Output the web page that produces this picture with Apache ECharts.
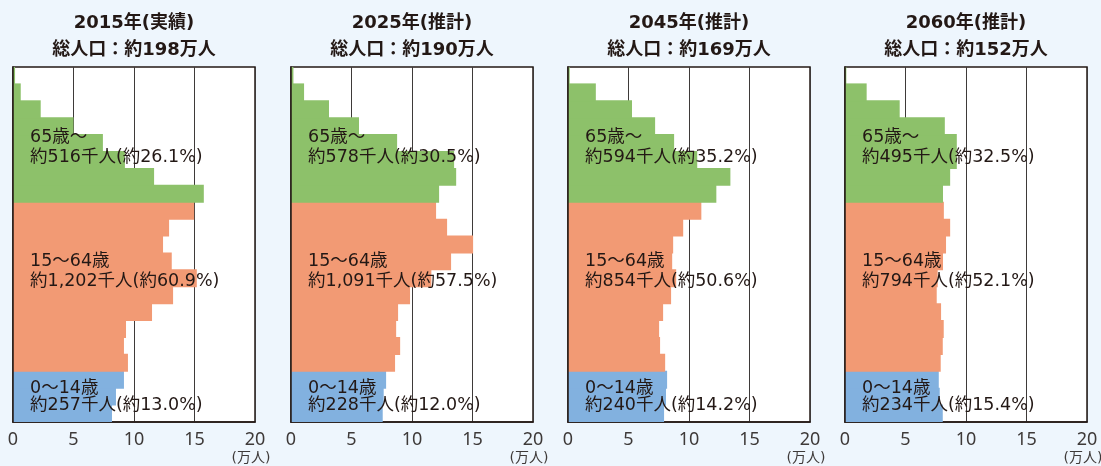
<!DOCTYPE html>
<html><head><meta charset="utf-8">
<script src="https://cdn.jsdelivr.net/npm/echarts@6/dist/echarts.min.js"></script>
<style>html,body{margin:0;padding:0;background:#eef6fd;}#c{width:1101px;height:466px;}</style>
</head><body><div id="c"></div>
<script>
// age groups, bottom (0-4) to top (100+)
const ageGroups = ['0-4','5-9','10-14','15-19','20-24','25-29','30-34','35-39','40-44','45-49','50-54','55-59','60-64','65-69','70-74','75-79','80-84','85-89','90-94','95-99','100+'];
const yearTitles = ['2015年(実績)','2025年(推計)','2045年(推計)','2060年(推計)'];
const totalTitles = ['総人口：約198万人','総人口：約190万人','総人口：約169万人','総人口：約152万人'];
const xTicks = [0, 5, 10, 15, 20];
const unitLabel = '(万人)';
// population by age group (万人)
const pop2015 = [8.18, 8.51, 9.17, 9.50, 9.17, 9.34, 11.49, 13.23, 15.19, 13.12, 12.40, 12.90, 14.97, 15.77, 11.66, 9.25, 7.43, 5.00, 2.29, 0.64, 0.17];
const pop2025 = [7.58, 7.66, 7.86, 8.60, 9.02, 8.69, 8.85, 9.84, 11.60, 13.23, 15.05, 12.90, 11.99, 12.24, 13.65, 13.48, 8.77, 5.62, 3.14, 1.08, 0.20];
const pop2045 = [7.94, 8.10, 8.19, 8.03, 7.61, 7.53, 7.86, 8.52, 8.94, 8.61, 8.69, 9.52, 11.02, 12.26, 13.42, 10.68, 8.77, 7.20, 5.29, 2.30, 0.14];
const pop2060 = [8.08, 7.83, 7.75, 7.91, 8.08, 8.16, 7.94, 7.58, 7.66, 8.10, 8.35, 8.69, 8.17, 8.10, 8.69, 9.24, 9.24, 8.25, 4.52, 1.79, 0.11];
const groupNames = ['0～14歳', '15～64歳', '65歳～'];
const groupText2015 = ['約257千人(約13.0%)', '約1,202千人(約60.9%)', '約516千人(約26.1%)'];
const groupText2025 = ['約228千人(約12.0%)', '約1,091千人(約57.5%)', '約578千人(約30.5%)'];
const groupText2045 = ['約240千人(約14.2%)', '約854千人(約50.6%)', '約594千人(約35.2%)'];
const groupText2060 = ['約234千人(約15.4%)', '約794千人(約52.1%)', '約495千人(約32.5%)'];

const pops = [pop2015, pop2025, pop2045, pop2060];
const groupTexts = [groupText2015, groupText2025, groupText2045, groupText2060];
const colors = ['#82b1df', '#f29a74', '#8dc16a'];
const FONT = '"DejaVu Sans", "Noto Sans CJK JP", sans-serif';
const AXFONT = '"Noto Sans", "Noto Sans CJK JP", sans-serif';
const lefts = [13, 291, 568, 845];
const W = 242, TOP = 67, H = 355;

function groupOf(i) { return i < 3 ? 0 : (i < 13 ? 1 : 2); }

const grid = [], xAxis = [], yAxis = [], series = [], graphic = [];
lefts.forEach((L, p) => {
  grid.push({ left: L, top: TOP, width: W, height: H, show: true, backgroundColor: '#ffffff', borderColor: '#231815', borderWidth: 1.5 });
  xAxis.push({
    gridIndex: p, type: 'value', min: xTicks[0], max: xTicks[xTicks.length - 1], interval: 5,
    axisLine: { show: true, lineStyle: { color: '#231815', width: 1.5 } },
    axisTick: { show: false },
    axisLabel: { fontSize: 18, color: '#3e3a39', margin: 9, fontFamily: AXFONT },
    splitLine: { show: true, lineStyle: { color: '#3e3a39', width: 1 } }
  });
  yAxis.push({
    gridIndex: p, type: 'category', data: ageGroups, z: 5,
    axisLine: { show: true, lineStyle: { color: '#231815', width: 1.5 } },
    axisTick: { show: false }, axisLabel: { show: false }, splitLine: { show: false }
  });
  series.push({
    type: 'bar', xAxisIndex: p, yAxisIndex: p, barWidth: '106%', silent: true,
    data: pops[p].map((v, i) => ({ value: v, itemStyle: { color: colors[groupOf(i)] } }))
  });
  const cx = L + W / 2;
  graphic.push({ type: 'text', x: cx, y: 23, style: { text: yearTitles[p], align: 'center', verticalAlign: 'middle', font: 'bold 18px ' + FONT, fill: '#231815' } });
  graphic.push({ type: 'text', x: cx, y: 50, style: { text: totalTitles[p], align: 'center', verticalAlign: 'middle', font: 'bold 18px ' + FONT, fill: '#231815' } });
  graphic.push({ type: 'text', x: L + W - 4, y: 458, style: { text: unitLabel, align: 'center', verticalAlign: 'middle', font: '14px ' + FONT, fill: '#3e3a39' } });
  const ys = [[388.5, 405.5], [261, 281], [137, 157]];
  for (let g = 0; g < 3; g++) {
    graphic.push({ type: 'text', x: L + 17, y: ys[g][0], z: 100, style: { text: groupNames[g], align: 'left', verticalAlign: 'middle', font: '17.5px ' + FONT, fill: '#231815' } });
    graphic.push({ type: 'text', x: L + 17, y: ys[g][1], z: 100, style: { text: groupTexts[p][g], align: 'left', verticalAlign: 'middle', font: '17.5px ' + FONT, fill: '#231815' } });
  }
});

const chart = echarts.init(document.getElementById('c'), null, { renderer: 'canvas' });
chart.setOption({ backgroundColor: '#eef6fd', animation: false, grid, xAxis, yAxis, series, graphic });
</script></body></html>
